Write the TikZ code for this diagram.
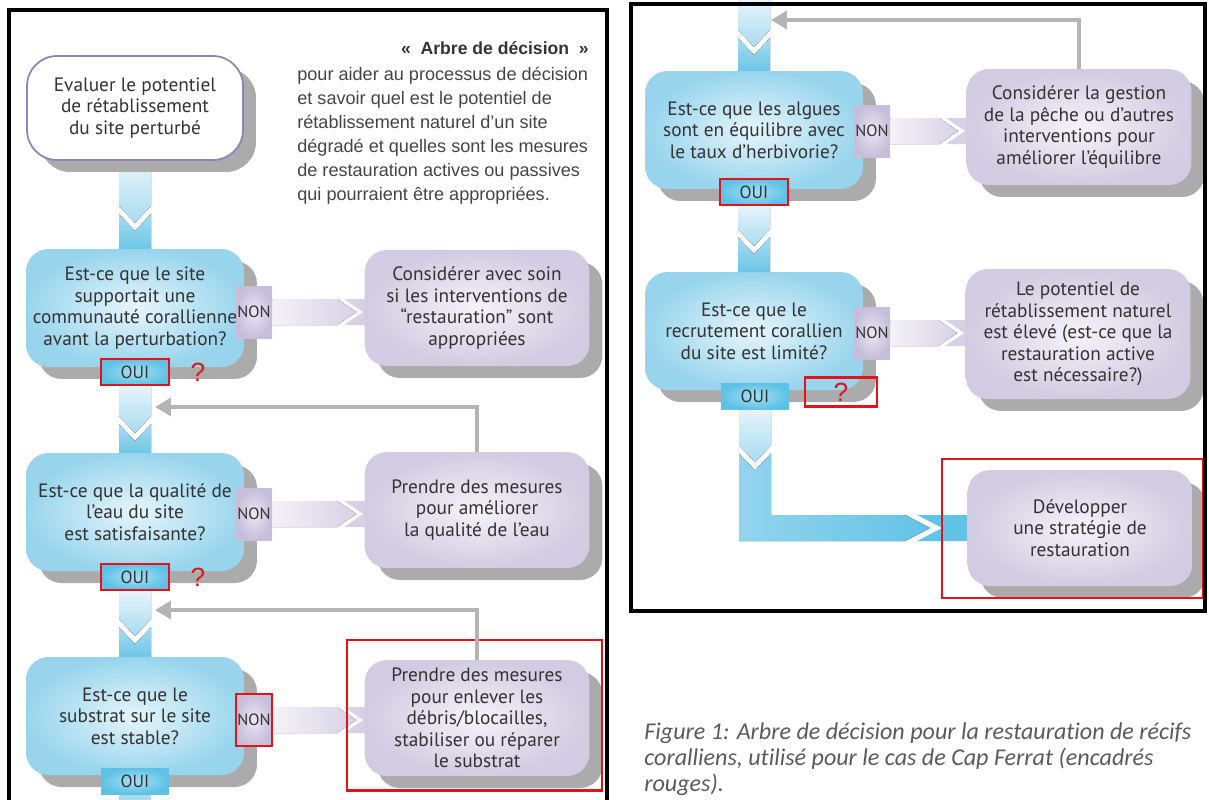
\documentclass[tikz,border=0pt]{standalone}
\usepackage{fontspec}
\newfontfamily\boxfont{PT Sans}
\newfontfamily\arialfont{Liberation Sans}
\newfontfamily\capfont[Ligatures=NoCommon]{Carlito}
\usepackage{tikz}
\usepgflibrary{arrows.meta}
\usetikzlibrary{calc,shadows}
\pgfdeclarelayer{background}
\pgfsetlayers{background,main}

\definecolor{qin}{HTML}{E6F5FB}
\definecolor{qout}{HTML}{98D5ED}
\definecolor{rin}{HTML}{F5F3F9}
\definecolor{rout}{HTML}{D2CBE1}
\definecolor{bandlight}{HTML}{E6F4FB}
\definecolor{bandmid}{HTML}{A8DBF0}
\definecolor{banddark}{HTML}{62C3E6}
\definecolor{ouiin}{HTML}{A9DFF2}
\definecolor{ouiout}{HTML}{5EC2E6}
\definecolor{nonin}{HTML}{EAE6F2}
\definecolor{nonout}{HTML}{C7BEDB}
\definecolor{nonlight}{HTML}{F4F2F8}
\definecolor{nondark}{HTML}{D8D1E6}
\definecolor{txt}{HTML}{333333}
\definecolor{introtxt}{HTML}{444444}
\definecolor{capgray}{HTML}{5A5A5A}
\definecolor{startline}{HTML}{8E84B8}
\definecolor{shadowgray}{HTML}{ABABAB}
\definecolor{fbgray}{HTML}{B4B4B4}
\definecolor{redc}{HTML}{E3131B}

\tikzset{
  shadowed/.style={drop shadow={shadow xshift=0.26cm, shadow yshift=-0.24cm, fill=shadowgray, opacity=1}},
  boxtext/.style={align=center, inner sep=0pt, text=txt, font=\boxfont\fontsize{11}{12.3}\selectfont},
  startbox/.style={boxtext, shadowed, rounded corners=0.6cm, draw=startline, line width=1pt, fill=white, minimum width=4.32cm, minimum height=2.08cm},
  qbox/.style={boxtext, shadowed, rounded corners=0.45cm, inner color=qin, outer color=qout, minimum width=4.36cm, minimum height=2.36cm},
  rbox/.style={boxtext, shadowed, rounded corners=0.45cm, inner color=rin, outer color=rout, minimum width=4.5cm, minimum height=2.32cm},
  oui/.style={inner color=ouiin, outer color=ouiout, minimum width=1.36cm, minimum height=0.52cm, inner sep=0pt, text=txt, font=\boxfont\fontsize{10}{10}\selectfont},
  non/.style={inner color=nonin, outer color=nonout, minimum width=0.72cm, minimum height=1.04cm, inner sep=0pt, text=txt, font=\boxfont\fontsize{9.3}{9.3}\selectfont},
  marked/.style={draw=redc, line width=1.3pt},
  qmark/.style={text=redc, inner sep=0pt, font=\arialfont\fontsize{15}{15}\selectfont},
  feedback/.style={draw=fbgray, line width=2.2pt, -{Triangle[length=9pt,width=10pt]}},
  redframe/.style={draw=redc, line width=1.3pt},
  frame/.style={draw=black, line width=1.8pt},
  bandup/.style={top color=bandlight, bottom color=bandmid},
  banddown/.style={top color=bandmid, bottom color=banddark},
  nonband/.style={left color=nonlight, right color=nondark},
}

\newcommand{\vband}[3]{%
  \begin{pgfonlayer}{background}
    \coordinate (vt) at (#1);
    \coordinate (vb) at (#1 |- #2);
    \fill[bandup] ($(vt)+(-16,0)$) -- ($(vt)+(16,0)$) -- ($(vt)+(16,#3)$)
      -- ($(vt)+(0,#3+17)$) -- ($(vt)+(-16,#3)$) -- cycle;
    \fill[banddown] ($(vt)+(-16,#3+8)$) -- ($(vt)+(0,#3+25)$) -- ($(vt)+(16,#3+8)$)
      -- ($(vb)+(16,6)$) -- ($(vb)+(-16,6)$) -- cycle;
  \end{pgfonlayer}
}
\newcommand{\hband}[2]{%
  \begin{pgfonlayer}{background}
    \coordinate (hs) at (#1.east);
    \coordinate (he) at (#2.west |- #1.east);
    \fill[nonband] ($(hs)+(0,-13)$) -- ($(he)+(-27,-13)$) -- ($(he)+(-8,0)$)
      -- ($(he)+(-27,13)$) -- ($(hs)+(0,13)$) -- cycle;
    \fill[nondark] ($(he)+(-20,-13)$) -- ($(he)+(8,-13)$) -- ($(he)+(8,13)$)
      -- ($(he)+(-20,13)$) -- ($(he)+(-1,0)$) -- cycle;
  \end{pgfonlayer}
}

\begin{document}
\begin{tikzpicture}[x=0.02cm, y=-0.02cm]
    \useasboundingbox (0,0) rectangle (1209,799);
    \clip (0,0) rectangle (1209,799);

    % left column
    \node[startbox] (start) at (135,108) {Evaluer le potentiel\\de rétablissement\\du site perturbé};
    \node[anchor=east, inner sep=0pt, text=txt, font=\arialfont\bfseries\fontsize{10}{12}\selectfont] (title) at (589,48) {«\ \ Arbre de décision\ \ »};
    \node[anchor=north west, align=left, inner sep=0pt, text=introtxt, font=\arialfont\fontsize{10.3}{13.6}\selectfont] (intro) at (297,67)
      {pour aider au processus de décision\\et savoir quel est le potentiel de\\rétablissement naturel d’un site\\dégradé et quelles sont les mesures\\de restauration actives ou passives\\qui pourraient être appropriées.};

    \node[qbox] (q1) at (135,308) {Est-ce que le site\\supportait une\\communauté corallienne\\avant la perturbation?};
    \node[rbox] (r1) at (477,308) {Considérer avec soin\\si les interventions de\\“restauration” sont\\appropriées};
    \node[non] (non1) at (254,312) {NON};
    \node[oui, marked] (oui1) at (135,372) {OUI};
    \node[qmark] (qm1) at (198,372) {?};

    \node[qbox] (q2) at (135,512) {Est-ce que la qualité de\\l’eau du site\\est satisfaisante?};
    \node[rbox] (r2) at (477,510) {Prendre des mesures\\pour améliorer\\la qualité de l’eau};
    \node[non] (non2) at (254,514) {NON};
    \node[oui, marked] (oui2) at (135,577) {OUI};
    \node[qmark] (qm2) at (198,577) {?};

    \node[qbox] (q3) at (135,716) {Est-ce que le\\substrat sur le site\\est stable?};
    \node[rbox] (r3) at (477,718) {Prendre des mesures\\pour enlever les\\débris/blocailles,\\stabiliser ou réparer\\le substrat};
    \node[non, marked] (non3) at (254,720) {NON};
    \node[oui] (oui3) at (135,781) {OUI};
    \draw[redframe] ($(r3.north west)+(-17,-20)$) rectangle ($(r3.south east)+(12,14)$);

    \vband{start.south}{q1.north}{45}
    \vband{oui1.south}{q2.north}{30}
    \vband{oui2.south}{q3.north}{28}
    \begin{pgfonlayer}{background}
        \fill[bandmid] ($(oui3.south)+(-16,0)$) rectangle ($(oui3.south)+(16,20)$);
    \end{pgfonlayer}
    \hband{non1}{r1}
    \hband{non2}{r2}
    \hband{non3}{r3}

    \coordinate (fb1) at (155,407);
    \coordinate (fb2) at (155,610);
    \draw[feedback] (r2.north) |- (fb1);
    \draw[feedback] (r3.north) |- (fb2);

    % right column
    \coordinate (rtop) at (754,0);
    \node[qbox] (q4) at (754,130) {Est-ce que les algues\\sont en équilibre avec\\le taux d’herbivorie?};
    \node[rbox] (r4) at (1079,127) {Considérer la gestion\\de la pêche ou d’autres\\interventions pour\\améliorer l’équilibre};
    \node[non] (non4) at (872,131) {NON};
    \node[oui, marked] (oui4) at (754,192) {OUI};

    \node[qbox] (q5) at (754,331) {Est-ce que le\\recrutement corallien\\du site est limité?};
    \node[rbox, minimum height=2.6cm] (r5) at (1078,334) {Le potentiel de\\rétablissement naturel\\est élevé (est-ce que la\\restauration active\\est nécessaire?)};
    \node[non] (non5) at (872,333) {NON};
    \node[oui] (oui5) at (755,396) {OUI};
    \node[qmark, marked, minimum width=1.44cm, minimum height=0.58cm] (qm5) at (841,392) {?};

    \node[rbox] (r6) at (1080,528) {Développer\\une stratégie de\\restauration};
    \draw[redframe] ($(r6.north west)+(-25,-11)$) rectangle ($(r6.south east)+(10,12)$);

    \vband{rtop}{q4.north}{30}
    \vband{oui4.south}{q5.north}{23}
    \hband{non4}{r4}
    \hband{non5}{r5}
    \begin{pgfonlayer}{background}
        \coordinate (lt) at (oui5.south);
        \coordinate (lc) at (oui5.south |- r6.west);
        \fill[bandup] ($(lt)+(-16,0)$) -- ($(lt)+(16,0)$) -- ($(lt)+(16,36)$)
          -- ($(lt)+(0,53)$) -- ($(lt)+(-16,36)$) -- cycle;
        \fill[left color=bandmid!70!banddark, right color=banddark] ($(lt)+(-16,44)$) -- ($(lt)+(0,61)$) -- ($(lt)+(16,44)$)
          -- ($(lc)+(16,-13)$) -- ($(r6.west)+(-62,-13)$) -- ($(r6.west)+(-37,0)$)
          -- ($(r6.west)+(-62,13)$) -- ($(lc)+(-16,13)$) -- cycle;
        \fill[banddark] ($(r6.west)+(-50,-13)$) -- ($(r6.west)+(8,-13)$) -- ($(r6.west)+(8,13)$)
          -- ($(r6.west)+(-50,13)$) -- ($(r6.west)+(-25,0)$) -- cycle;
    \end{pgfonlayer}

    \coordinate (fb3) at (771,20);
    \draw[feedback] (r4.north) |- (fb3);

    \node[anchor=north west, align=left, inner sep=0pt, text=capgray, font=\capfont\itshape\fontsize{13.7}{14.8}\selectfont] (caption) at (644,722)
      {Figure 1: Arbre de décision pour la restauration de récifs\\coralliens, utilisé pour le cas de Cap Ferrat (encadrés\\rouges).};

    \draw[frame] (9,10) rectangle (607,830);
    \draw[frame] (631,4) rectangle (1205,611);
\end{tikzpicture}
\end{document}
